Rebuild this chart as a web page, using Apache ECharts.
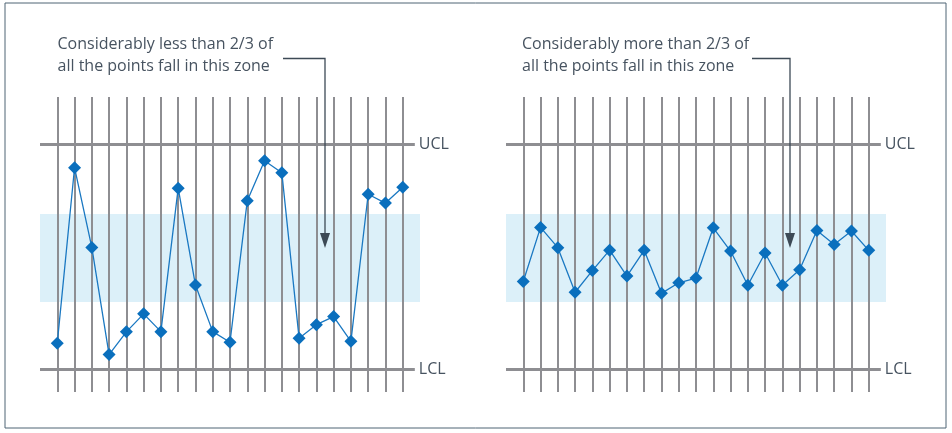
<html>
<head>
  <meta charset="utf-8" />
  <title>控制图</title>
  <script src="https://cdn.jsdelivr.net/npm/echarts@6/dist/echarts.min.js"></script>
  <style>
    html, body { margin: 0; padding: 0; background: #fff; }
    #container { width: 952px; height: 433px; }
  </style>
</head>
<body>
  <div id="container"></div>
  <script>
    // 横轴的样本序号，1 到 21
    var samples = [1, 2, 3, 4, 5, 6, 7, 8, 9, 10, 11, 12, 13, 14, 15, 16, 17, 18, 19, 20, 21];
    // 左图：落在中间区域的点远少于 2/3
    var leftValues = [11.7, 89.6, 54.2, 6.6, 16.7, 24.7, 16.8, 80.5, 37.5, 16.8, 12.1,
      74.9, 92.7, 87.4, 13.9, 19.9, 23.5, 12.5, 77.8, 73.9, 80.9];
    // 右图：落在中间区域的点远多于 2/3
    var rightValues = [39.1, 63.1, 54.1, 34.3, 43.9, 53.0, 41.5, 52.9, 33.8, 38.5, 40.6,
      62.9, 52.6, 37.4, 51.7, 37.4, 44.3, 61.7, 55.5, 61.5, 52.9];
    // 控制线和中间区域
    var ucl = 100;
    var lcl = 0;
    var zone = [30, 69];
    var notes = [
      ['Considerably less than 2/3 of', 'all the points fall in this zone'],
      ['Considerably more than 2/3 of', 'all the points fall in this zone']
    ];

    var gridColor = '#8e8e92';
    var dotColor = '#0a6fbd';
    var textColor = '#475360';
    var arrowColor = '#3d4a56';

    var dom = document.getElementById('container');
    var myChart = echarts.init(dom, null, { renderer: 'canvas' });

    // 每一个图的配置都一样，只有数据和位置不同
    function makeSeries(idx, values) {
      var pairs = samples.map(function (s, i) { return [s, values[i]]; });
      return [{
        // 竖线 + 中间区域
        type: 'line',
        xAxisIndex: idx,
        yAxisIndex: idx,
        data: [],
        silent: true,
        markArea: {
          silent: true,
          itemStyle: { color: '#dcf0f9' },
          data: [[{ xAxis: 0, yAxis: zone[0] }, { xAxis: 22, yAxis: zone[1] }]]
        },
        markLine: {
          silent: true,
          symbol: 'none',
          animation: false,
          lineStyle: { color: gridColor, width: 2, type: 'solid' },
          label: { show: false },
          data: samples.map(function (s) { return { xAxis: s }; })
        }
      }, {
        // UCL / LCL
        type: 'line',
        xAxisIndex: idx,
        yAxisIndex: idx,
        data: [],
        silent: true,
        markLine: {
          silent: true,
          symbol: 'none',
          animation: false,
          lineStyle: { color: gridColor, width: 3, type: 'solid' },
          label: {
            show: true,
            position: 'end',
            distance: 4,
            color: textColor,
            fontSize: 16,
            fontFamily: 'Open Sans',
            formatter: function (p) { return p.name; }
          },
          data: [
            [{ name: 'UCL', coord: [0, ucl] }, { coord: [21.7, ucl] }],
            [{ name: 'LCL', coord: [0, lcl] }, { coord: [21.7, lcl] }]
          ]
        }
      }, {
        type: 'line',
        xAxisIndex: idx,
        yAxisIndex: idx,
        data: pairs,
        symbol: 'diamond',
        symbolSize: 13,
        z: 5,
        animation: false,
        itemStyle: { color: dotColor },
        lineStyle: { color: '#1a78c2', width: 1.3 }
      }];
    }

    function axisX(idx) {
      return { gridIndex: idx, type: 'value', min: 0, max: 22, show: false };
    }
    function axisY(idx) {
      return { gridIndex: idx, type: 'value', min: -10, max: 121, show: false };
    }

    // 注释文字和箭头
    var graphics = [{
      type: 'rect',
      shape: { x: 5, y: 3, width: 941, height: 425 },
      style: { fill: 'none', stroke: '#4f6474', lineWidth: 1 },
      silent: true
    }];
    [[57.5, 283, 325], [522, 752, 790]].forEach(function (a, i) {
      graphics.push({
        type: 'text', left: a[0], top: 33,
        style: {
          text: notes[i].join('\n'), fill: textColor, fontSize: 16,
          fontFamily: 'Open Sans', lineHeight: 22
        }
      });
      graphics.push({
        type: 'polyline',
        shape: { points: [[a[1], 58.5], [a[2], 58.5], [a[2], 236]] },
        style: { stroke: arrowColor, lineWidth: 1.3, fill: 'none' },
        z: 10
      });
      graphics.push({
        type: 'polygon',
        shape: { points: [[a[2] - 5, 233], [a[2] + 5, 233], [a[2], 248]] },
        style: { fill: arrowColor },
        z: 10
      });
    });

    var option = {
      animation: false,
      grid: [
        { left: 40, top: 97, width: 380, height: 295 },
        { left: 506, top: 97, width: 380, height: 295 }
      ],
      xAxis: [axisX(0), axisX(1)],
      yAxis: [axisY(0), axisY(1)],
      series: makeSeries(0, leftValues).concat(makeSeries(1, rightValues)),
      graphic: graphics
    };
    myChart.setOption(option, true);
  </script>
</body>
</html>
